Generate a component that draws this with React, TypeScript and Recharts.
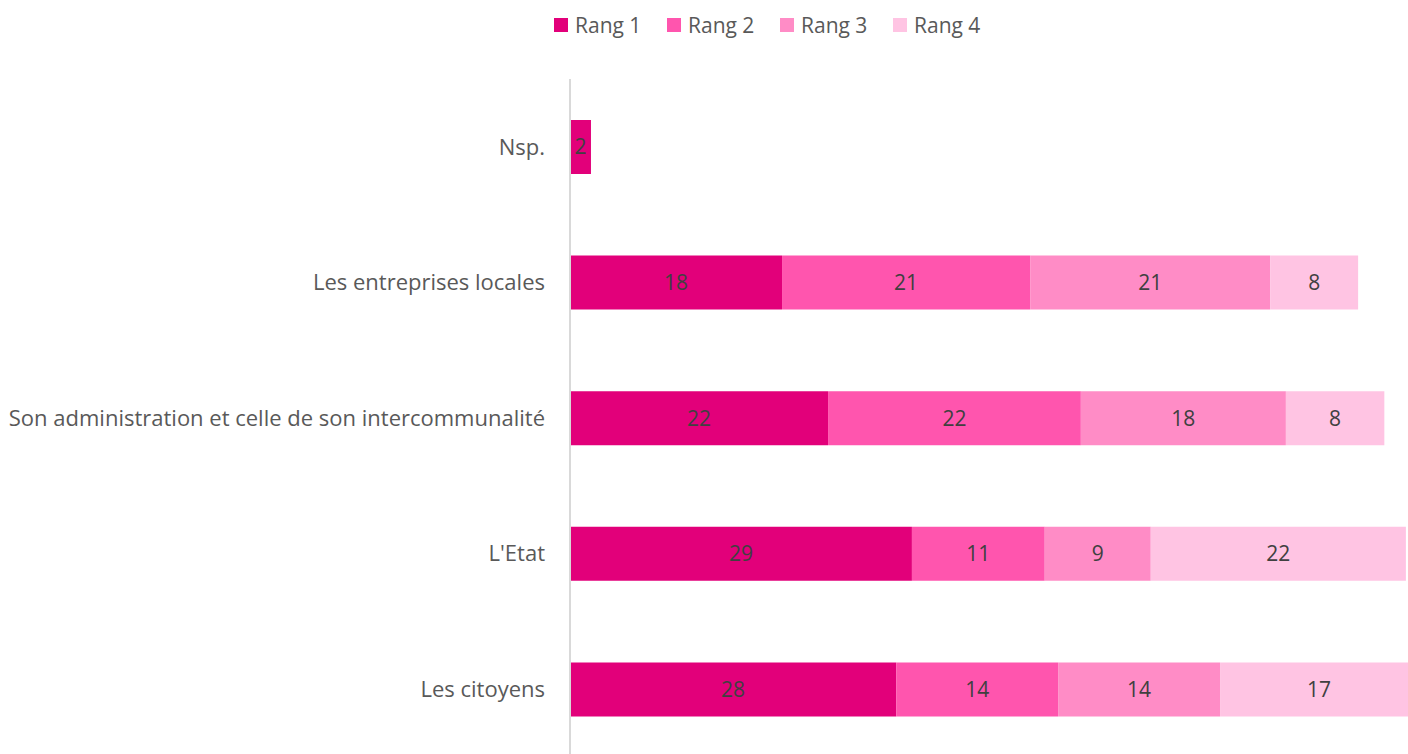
import React from "react";
import { BarChart, Bar, XAxis, YAxis, Legend, LabelList } from "recharts";

const categories = [
  "Nsp.",
  "Les entreprises locales",
  "Son administration et celle de son intercommunalité",
  "L'Etat",
  "Les citoyens",
];
const rang1 = [1.8, 18.2, 22.15, 29.35, 28.0];
const rang2 = [null, 21.3, 21.7, 11.4, 13.9];
const rang3 = [null, 20.6, 17.6, 9.1, 13.9];
const rang4 = [null, 7.55, 8.45, 21.9, 17.0];

const seriesNames = ["Rang 1", "Rang 2", "Rang 3", "Rang 4"];
const seriesKeys = ["r1", "r2", "r3", "r4"];
const colors = ["#E2007A", "#FF55AE", "#FF8CC6", "#FFC4E3"];

const data = categories.map((c, i) => ({
  name: c,
  r1: rang1[i],
  r2: rang2[i],
  r3: rang3[i],
  r4: rang4[i],
}));

const FONT = "'Open Sans', 'Noto Sans', sans-serif";

const fmt = (v: any) => (v === null || v === undefined || v === 0 ? "" : String(Math.round(Number(v))));

const renderLegend = () => (
  <div style={{ display: "flex", fontFamily: FONT, fontSize: 21, color: "#595959", height: 14 }}>
    {seriesNames.map((n, i) => (
      <div key={n} style={{ width: 113, display: "flex", alignItems: "center", height: 14 }}>
        <div style={{ width: 14, height: 14, background: colors[i], marginRight: 7, flexShrink: 0 }} />
        <span style={{ lineHeight: "14px", whiteSpace: "nowrap" }}>{n}</span>
      </div>
    ))}
  </div>
);

export default function App() {
  return (
    <div style={{ position: "fixed", left: 0, top: 0, width: 1408, height: 754, overflow: "hidden", background: "#fff" }}>
      <BarChart
        width={1502}
        height={760}
        data={data}
        layout="vertical"
        margin={{ top: 65, right: 0, bottom: 3, left: 0 }}
      >
        <XAxis type="number" domain={[0, 80]} hide />
        <YAxis
          type="category"
          dataKey="name"
          width={570}
          tickLine={false}
          tickSize={6}
          tickMargin={19}
          axisLine={{ stroke: "#D9D9D9", strokeWidth: 2 }}
          tick={{ fill: "#595959", fontSize: 22, fontFamily: FONT }}
          interval={0}
        />
        <Legend
          verticalAlign="top"
          content={renderLegend}
          wrapperStyle={{ top: 18, left: 554, width: 500, height: 14 }}
        />
        {seriesKeys.map((k, i) => (
          <Bar key={k} dataKey={k} name={seriesNames[i]} stackId="a" fill={colors[i]} barSize={54} isAnimationActive={false}>
            <LabelList dataKey={k} position="center" formatter={fmt} fill="#404040" fontSize={21} fontFamily={FONT} />
          </Bar>
        ))}
      </BarChart>
    </div>
  );
}
